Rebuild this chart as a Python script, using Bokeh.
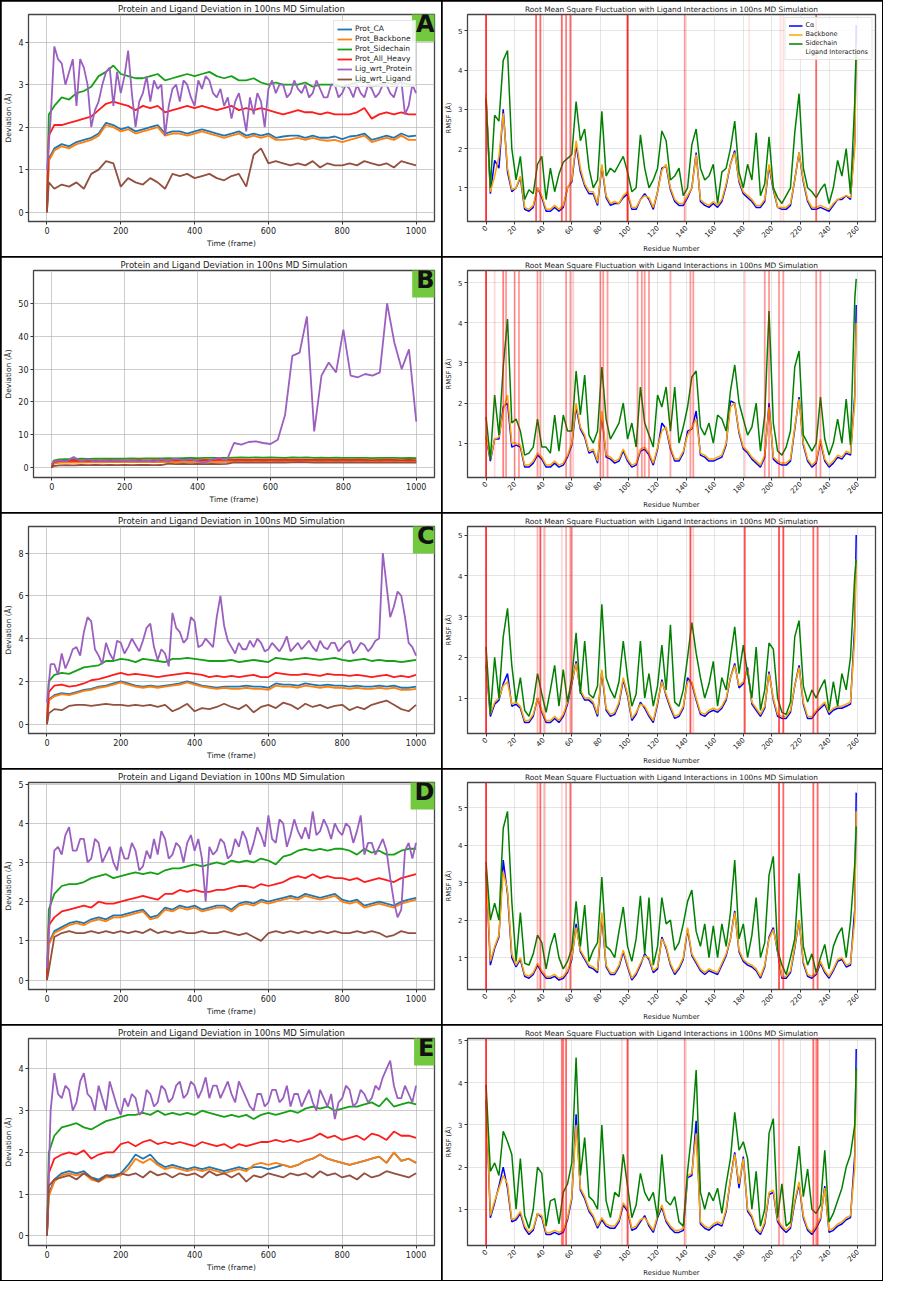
import math
from bokeh.plotting import figure
from bokeh.models import Range1d, Label, Span
from bokeh.layouts import row, column
from bokeh.embed import file_html
from bokeh.resources import INLINE

FONT = "DejaVu Sans"

# ---------------- data ----------------
FRAMES = [0, 5] + list(range(20, 1001, 20))
FRAMES_10 = list(range(0, 1001, 10))
RESIDUES = list(range(0, 259, 3)) + [259]

RMSD_TITLE = "Protein and Ligand Deviation in 100ns MD Simulation"
RMSF_TITLE = "Root Mean Square Fluctuation with Ligand Interactions in 100ns MD Simulation"
RMSD_LABELS = ["Prot_CA", "Prot_Backbone", "Prot_Sidechain", "Prot_All_Heavy", "Lig_wrt_Protein", "Lig_wrt_Ligand"]
RMSD_COLORS = ["#1f77b4", "#ff7f0e", "#16a016", "#ff1c1c", "#9b5fc0", "#93503f"]
RMSF_LABELS = ["C\u03b1", "Backbone", "Sidechain"]
RMSF_COLORS = ["#0000ff", "#ffa500", "#008000"]
LETTERS = ["A", "B", "C", "D", "E"]

# ---- panel A : RMSD ----
A_CA = [0, 1.25,
        1.5, 1.6, 1.55, 1.65, 1.7, 1.75, 1.85, 2.1, 2.05, 1.95,
        2.0, 1.9, 1.95, 2.0, 2.05, 1.85, 1.9, 1.9, 1.85, 1.9,
        1.95, 1.9, 1.85, 1.8, 1.85, 1.9, 1.8, 1.85, 1.8, 1.85,
        1.75, 1.78, 1.8, 1.8, 1.75, 1.8, 1.75, 1.75, 1.78, 1.72,
        1.78, 1.8, 1.85, 1.7, 1.75, 1.8, 1.75, 1.85, 1.78, 1.8]
A_BB = [0, 1.2,
        1.45, 1.55, 1.5, 1.6, 1.65, 1.7, 1.8, 2.05, 2.0, 1.9,
        1.95, 1.85, 1.9, 1.95, 2.0, 1.8, 1.85, 1.85, 1.8, 1.85,
        1.9, 1.85, 1.8, 1.75, 1.8, 1.85, 1.75, 1.8, 1.75, 1.8,
        1.7, 1.7, 1.72, 1.75, 1.7, 1.75, 1.7, 1.68, 1.7, 1.65,
        1.7, 1.75, 1.8, 1.65, 1.7, 1.75, 1.7, 1.8, 1.7, 1.7]
A_SC = [0, 2.3,
        2.5, 2.7, 2.65, 2.8, 2.85, 2.95, 3.2, 3.3, 3.45, 3.25,
        3.2, 3.15, 3.15, 3.2, 3.25, 3.1, 3.15, 3.2, 3.25, 3.2,
        3.25, 3.3, 3.2, 3.15, 3.2, 3.1, 3.1, 3.15, 3.05, 3.0,
        3.05, 3.0, 3.0, 3.0, 3.05, 2.95, 3.0, 3.0, 3.0, 2.95,
        3.0, 3.05, 3.1, 2.95, 3.0, 3.05, 3.0, 3.05, 3.0, 3.0]
A_HV = [0, 1.8,
        2.05, 2.05, 2.1, 2.15, 2.2, 2.25, 2.4, 2.55, 2.6, 2.55,
        2.5, 2.4, 2.5, 2.45, 2.5, 2.35, 2.4, 2.45, 2.5, 2.45,
        2.5, 2.45, 2.4, 2.45, 2.5, 2.4, 2.45, 2.4, 2.45, 2.4,
        2.35, 2.3, 2.35, 2.4, 2.35, 2.35, 2.3, 2.35, 2.3, 2.3,
        2.3, 2.35, 2.45, 2.2, 2.3, 2.35, 2.3, 2.35, 2.3, 2.3]
# Lig_wrt_Protein, every 10 frames
A_LP = [1.0, 2.2, 3.9, 3.6, 3.5, 3.0, 3.3, 3.6, 2.5, 3.6,
        3.4, 3.0, 2.0, 2.4, 2.6, 3.0, 3.3, 3.4, 2.5, 3.3,
        2.8, 3.2, 3.8, 2.8, 2.0, 2.6, 2.8, 3.2, 2.6, 3.1,
        2.9, 3.0, 1.8, 2.5, 2.9, 3.0, 2.6, 3.1, 3.0, 2.7,
        2.5, 3.1, 2.9, 3.2, 3.1, 2.8, 2.7, 2.9, 2.5, 2.7,
        2.2, 2.6, 2.8, 2.4, 1.9, 2.7, 2.3, 2.8, 2.6, 2.0,
        2.9, 3.1, 2.8, 3.0, 3.0, 2.7, 2.8, 3.1, 2.9, 2.8,
        3.0, 2.7, 2.8, 3.1, 2.9, 2.7, 2.7, 3.0, 3.0, 2.7,
        2.8, 3.0, 2.9, 2.7, 3.0, 2.8, 2.7, 3.0, 2.9, 2.7,
        2.8, 3.0, 3.0, 2.8, 2.7, 3.0, 3.1, 2.3, 2.5, 3.0,
        2.8]
A_LL = [0, 0.7,
        0.55, 0.65, 0.6, 0.7, 0.55, 0.9, 1.0, 1.2, 1.15, 0.6,
        0.8, 0.7, 0.65, 0.8, 0.7, 0.55, 0.9, 0.85, 0.9, 0.8,
        0.85, 0.9, 0.8, 0.75, 0.85, 0.9, 0.6, 1.35, 1.5, 1.15,
        1.2, 1.15, 1.1, 1.15, 1.1, 1.2, 1.05, 1.15, 1.1, 1.1,
        1.15, 1.1, 1.2, 1.15, 1.1, 1.15, 1.05, 1.2, 1.15, 1.1]

# ---- panel B : RMSD ----
B_CA = [0, 1.3,
        1.6, 1.65, 1.7, 1.65, 1.7, 1.75, 1.7, 1.75, 1.8, 1.75,
        1.8, 1.75, 1.8, 1.85, 1.8, 1.85, 1.8, 1.85, 1.9, 1.85,
        1.9, 1.85, 1.9, 1.9, 2.0, 1.95, 2.0, 2.0, 1.95, 2.0,
        1.95, 2.0, 2.05, 2.0, 2.0, 1.95, 2.0, 2.0, 1.95, 2.0,
        1.95, 2.0, 1.95, 1.9, 1.95, 2.0, 1.95, 1.9, 1.95, 1.9]
B_BB = [0, 1.2,
        1.5, 1.55, 1.6, 1.55, 1.6, 1.65, 1.6, 1.65, 1.7, 1.65,
        1.7, 1.65, 1.7, 1.75, 1.7, 1.75, 1.7, 1.75, 1.8, 1.75,
        1.8, 1.75, 1.8, 1.8, 1.9, 1.85, 1.9, 1.9, 1.85, 1.9,
        1.85, 1.9, 1.95, 1.9, 1.9, 1.85, 1.9, 1.9, 1.85, 1.9,
        1.85, 1.9, 1.85, 1.8, 1.85, 1.9, 1.85, 1.8, 1.85, 1.8]
B_SC = [0, 2.1,
        2.5, 2.6, 2.6, 2.7, 2.65, 2.7, 2.7, 2.75, 2.7, 2.75,
        2.8, 2.75, 2.8, 2.8, 2.85, 2.9, 2.85, 2.9, 2.95, 2.9,
        3.0, 2.95, 3.0, 3.0, 3.05, 3.1, 3.05, 3.1, 3.05, 3.1,
        3.05, 3.0, 3.1, 3.05, 3.1, 3.0, 3.05, 3.0, 3.05, 3.0,
        2.95, 3.0, 2.95, 2.9, 2.95, 3.0, 2.95, 2.9, 2.95, 2.9]
B_HV = [0, 1.7,
        2.0, 2.05, 2.1, 2.1, 2.15, 2.1, 2.15, 2.2, 2.15, 2.2,
        2.2, 2.25, 2.2, 2.25, 2.3, 2.25, 2.3, 2.3, 2.35, 2.3,
        2.35, 2.3, 2.35, 2.4, 2.45, 2.4, 2.45, 2.4, 2.45, 2.4,
        2.4, 2.45, 2.4, 2.45, 2.4, 2.35, 2.4, 2.4, 2.35, 2.4,
        2.35, 2.4, 2.35, 2.3, 2.35, 2.4, 2.35, 2.3, 2.35, 2.3]
B_LP = [1.0, 1.8,
        2.2, 2.0, 3.2, 2.0, 2.5, 1.8, 2.2, 1.9, 2.4, 2.0,
        2.3, 1.9, 2.2, 1.8, 2.5, 2.0, 2.8, 2.2, 2.6, 2.0,
        1.5, 2.5, 3.0, 2.2, 7.5, 7.0, 7.8, 8.0, 7.5, 7.2,
        8.5, 16.0, 34.0, 35.0, 46.0, 11.0, 28.0, 32.0, 29.0, 42.0,
        28.0, 27.5, 28.5, 28.0, 29.0, 50.0, 38.0, 30.0, 36.0, 14.0]
B_LL = [0, 0.5,
        0.7, 0.75, 0.7, 0.8, 0.75, 0.8, 0.75, 0.8, 0.75, 0.8,
        0.75, 0.8, 0.8, 0.75, 0.8, 1.2, 1.1, 1.15, 1.1, 1.15,
        1.1, 1.15, 1.1, 1.15, 1.6, 1.55, 1.6, 1.55, 1.6, 1.55,
        1.6, 1.55, 1.6, 1.65, 1.6, 1.55, 1.6, 1.55, 1.6, 1.55,
        1.6, 1.55, 1.6, 1.55, 1.6, 1.55, 1.6, 1.55, 1.6, 1.55]

# ---- panel C : RMSD ----
C_CA = [0, 1.15,
        1.35, 1.45, 1.4, 1.5, 1.6, 1.65, 1.75, 1.8, 1.9, 2.0,
        1.9, 1.8, 1.75, 1.8, 1.75, 1.8, 1.85, 1.9, 2.0, 1.9,
        1.8, 1.75, 1.7, 1.75, 1.75, 1.75, 1.8, 1.75, 1.75, 1.7,
        1.9, 1.85, 1.85, 1.8, 1.9, 1.85, 1.8, 1.85, 1.8, 1.8,
        1.75, 1.8, 1.75, 1.75, 1.8, 1.75, 1.8, 1.7, 1.7, 1.75]
C_BB = [0, 1.1,
        1.3, 1.4, 1.35, 1.45, 1.55, 1.6, 1.7, 1.75, 1.85, 1.95,
        1.85, 1.75, 1.7, 1.75, 1.7, 1.75, 1.8, 1.85, 1.95, 1.85,
        1.75, 1.7, 1.65, 1.7, 1.65, 1.65, 1.7, 1.65, 1.65, 1.6,
        1.8, 1.75, 1.75, 1.7, 1.8, 1.75, 1.7, 1.75, 1.7, 1.7,
        1.65, 1.7, 1.65, 1.65, 1.7, 1.65, 1.7, 1.6, 1.6, 1.65]
C_SC = [0, 2.0,
        2.3, 2.4, 2.35, 2.5, 2.65, 2.7, 2.75, 2.95, 2.95, 3.05,
        3.0, 2.9, 3.05, 3.0, 2.95, 2.9, 3.05, 3.05, 3.1, 3.05,
        3.0, 2.95, 2.95, 2.95, 3.0, 2.9, 2.95, 3.0, 2.95, 2.9,
        3.1, 3.05, 3.0, 3.05, 3.1, 3.05, 3.0, 3.05, 3.1, 3.0,
        2.95, 3.0, 3.05, 2.95, 3.0, 2.95, 2.95, 2.9, 2.95, 3.0]
C_HV = [0, 1.5,
        1.8, 1.85, 1.75, 1.8, 1.9, 2.05, 2.1, 2.2, 2.3, 2.4,
        2.3, 2.35, 2.3, 2.25, 2.2, 2.25, 2.3, 2.35, 2.4, 2.35,
        2.3, 2.2, 2.25, 2.2, 2.25, 2.2, 2.25, 2.3, 2.2, 2.2,
        2.4, 2.35, 2.3, 2.3, 2.35, 2.3, 2.25, 2.35, 2.3, 2.3,
        2.25, 2.3, 2.25, 2.2, 2.25, 2.3, 2.2, 2.25, 2.2, 2.3]
C_LP = [1.0, 2.8, 2.8, 2.3, 3.3, 2.6, 3.0, 3.5, 3.6, 3.2,
        4.3, 5.0, 4.8, 3.5, 3.2, 2.8, 3.8, 3.3, 3.0, 3.9,
        3.8, 3.3, 3.6, 4.0, 3.7, 3.4, 3.9, 4.5, 4.7, 3.6,
        3.0, 3.5, 3.3, 2.7, 5.2, 4.5, 4.3, 3.8, 4.0, 5.0,
        4.8, 3.6, 3.7, 4.0, 3.8, 3.6, 5.0, 6.0, 4.6, 3.9,
        3.6, 3.3, 3.8, 3.5, 3.5, 3.9, 3.6, 4.0, 3.8, 3.4,
        3.5, 3.8, 3.6, 3.4, 3.7, 4.1, 3.4, 3.6, 3.8, 3.5,
        3.7, 3.9, 3.6, 3.4, 3.9, 3.6, 3.5, 3.8, 3.8, 3.4,
        3.6, 3.8, 3.9, 3.3, 3.5, 3.8, 3.7, 3.4, 3.6, 3.9,
        4.0, 8.0, 6.5, 5.0, 5.5, 6.2, 6.0, 5.0, 3.8, 3.6,
        3.2]
C_LL = [0, 0.5,
        0.7, 0.65, 0.85, 0.9, 0.9, 0.85, 0.9, 0.95, 0.9, 0.9,
        0.85, 0.9, 0.85, 0.9, 0.8, 0.9, 0.6, 0.75, 0.95, 0.6,
        0.75, 0.7, 0.8, 0.95, 0.8, 0.7, 0.9, 0.55, 0.8, 0.9,
        0.75, 1.0, 0.9, 0.7, 0.95, 0.8, 0.9, 0.75, 0.85, 0.9,
        0.65, 0.8, 0.7, 0.9, 1.0, 1.1, 0.9, 0.7, 0.6, 0.9]

# ---- panel D : RMSD ----
D_CA = [0, 0.95,
        1.25, 1.35, 1.45, 1.5, 1.45, 1.55, 1.6, 1.55, 1.65, 1.65,
        1.7, 1.75, 1.8, 1.6, 1.65, 1.85, 1.8, 1.9, 1.85, 1.9,
        1.8, 1.85, 1.9, 1.9, 1.8, 1.95, 2.0, 1.95, 2.05, 2.0,
        2.05, 2.1, 2.15, 2.1, 2.2, 2.15, 2.1, 2.15, 2.2, 2.05,
        2.0, 2.05, 1.9, 1.95, 2.0, 1.95, 1.9, 2.0, 2.05, 2.1]
D_BB = [0, 0.9,
        1.2, 1.3, 1.4, 1.45, 1.4, 1.5, 1.55, 1.5, 1.6, 1.6,
        1.65, 1.7, 1.75, 1.55, 1.6, 1.8, 1.75, 1.85, 1.8, 1.85,
        1.75, 1.8, 1.85, 1.85, 1.75, 1.9, 1.95, 1.9, 2.0, 1.95,
        2.0, 2.05, 2.1, 2.05, 2.15, 2.1, 2.05, 2.1, 2.15, 2.0,
        1.95, 2.0, 1.85, 1.9, 1.95, 1.9, 1.85, 1.95, 2.0, 2.05]
D_SC = [0, 1.8,
        2.2, 2.4, 2.45, 2.45, 2.5, 2.6, 2.65, 2.7, 2.6, 2.65,
        2.7, 2.75, 2.7, 2.75, 2.7, 2.8, 2.85, 2.85, 2.9, 2.95,
        2.9, 2.95, 3.0, 2.95, 3.05, 3.0, 3.05, 3.0, 3.1, 3.05,
        2.95, 3.15, 3.2, 3.3, 3.35, 3.3, 3.35, 3.3, 3.35, 3.35,
        3.3, 3.2, 3.35, 3.25, 3.3, 3.2, 3.2, 3.3, 3.35, 3.35]
D_HV = [0, 1.4,
        1.6, 1.75, 1.8, 1.85, 1.9, 1.85, 2.0, 1.95, 1.95, 2.0,
        2.05, 2.1, 2.15, 2.1, 2.05, 2.2, 2.2, 2.3, 2.25, 2.3,
        2.25, 2.25, 2.3, 2.3, 2.35, 2.4, 2.4, 2.35, 2.45, 2.4,
        2.45, 2.5, 2.6, 2.65, 2.6, 2.7, 2.6, 2.65, 2.6, 2.6,
        2.55, 2.6, 2.5, 2.55, 2.6, 2.55, 2.5, 2.6, 2.65, 2.7]
D_LP = [0.3, 2.0, 3.3, 3.4, 3.2, 3.7, 3.9, 3.3, 3.3, 3.6,
        3.6, 3.0, 3.1, 3.6, 3.5, 3.0, 3.2, 3.4, 3.0, 2.8,
        3.4, 3.1, 3.1, 3.5, 3.3, 2.8, 2.9, 3.3, 3.1, 3.6,
        3.2, 3.8, 3.6, 3.1, 3.2, 3.5, 3.4, 3.0, 3.5, 3.7,
        3.3, 3.6, 3.1, 2.0, 3.4, 3.2, 3.3, 3.6, 3.5, 3.1,
        3.2, 3.6, 3.4, 3.8, 3.6, 3.2, 3.5, 3.9, 3.7, 3.4,
        4.2, 3.6, 3.5, 4.1, 4.0, 3.4, 3.7, 4.1, 3.8, 3.6,
        3.9, 3.6, 4.3, 3.7, 3.8, 4.1, 3.9, 3.6, 4.0, 3.8,
        3.7, 4.0, 3.9, 3.5, 3.8, 4.2, 3.2, 3.5, 3.5, 3.2,
        3.4, 3.6, 3.3, 2.6, 2.0, 1.6, 1.8, 3.3, 3.5, 3.1,
        3.5]
D_LL = [0, 0.25,
        1.1, 1.2, 1.25, 1.2, 1.2, 1.25, 1.2, 1.25, 1.2, 1.25,
        1.2, 1.25, 1.2, 1.3, 1.2, 1.25, 1.2, 1.25, 1.2, 1.2,
        1.25, 1.2, 1.2, 1.25, 1.2, 1.15, 1.2, 1.1, 1.0, 1.2,
        1.25, 1.2, 1.25, 1.2, 1.25, 1.2, 1.25, 1.2, 1.25, 1.2,
        1.2, 1.25, 1.2, 1.25, 1.2, 1.1, 1.15, 1.25, 1.2, 1.2]

# ---- panel E : RMSD ----
E_CA = [0, 1.0,
        1.35, 1.5, 1.55, 1.5, 1.55, 1.4, 1.35, 1.45, 1.45, 1.5,
        1.7, 1.95, 1.85, 1.95, 1.75, 1.65, 1.7, 1.65, 1.6, 1.65,
        1.6, 1.65, 1.6, 1.55, 1.6, 1.65, 1.6, 1.65, 1.65, 1.6,
        1.65, 1.7, 1.65, 1.7, 1.8, 1.85, 1.95, 1.85, 1.8, 1.75,
        1.7, 1.75, 1.8, 1.85, 1.9, 1.75, 2.0, 1.8, 1.85, 1.75]
E_BB = [0, 0.95,
        1.3, 1.45, 1.5, 1.45, 1.5, 1.35, 1.3, 1.4, 1.4, 1.45,
        1.6, 1.85, 1.75, 1.85, 1.7, 1.6, 1.65, 1.6, 1.55, 1.6,
        1.55, 1.6, 1.55, 1.5, 1.55, 1.6, 1.55, 1.7, 1.75, 1.7,
        1.75, 1.7, 1.65, 1.7, 1.8, 1.85, 1.95, 1.85, 1.8, 1.75,
        1.7, 1.75, 1.8, 1.85, 1.9, 1.75, 2.0, 1.8, 1.85, 1.75]
E_SC = [0, 2.0,
        2.4, 2.6, 2.65, 2.7, 2.6, 2.55, 2.65, 2.75, 2.8, 2.85,
        2.9, 2.9, 2.95, 2.9, 3.0, 2.9, 2.95, 2.9, 2.95, 2.9,
        3.0, 2.95, 2.9, 2.85, 2.9, 2.85, 2.9, 2.8, 2.9, 2.95,
        2.9, 2.95, 3.0, 2.95, 3.05, 3.1, 3.05, 3.1, 3.0, 3.05,
        3.1, 3.1, 3.15, 3.2, 3.1, 3.3, 3.1, 3.15, 3.2, 3.15]
E_HV = [0, 1.5,
        1.85, 1.95, 2.0, 1.95, 2.05, 1.85, 1.95, 2.0, 2.0, 2.2,
        2.25, 2.15, 2.25, 2.3, 2.2, 2.25, 2.2, 2.25, 2.2, 2.15,
        2.25, 2.2, 2.15, 2.2, 2.1, 2.2, 2.15, 2.2, 2.25, 2.25,
        2.3, 2.25, 2.3, 2.25, 2.3, 2.35, 2.45, 2.35, 2.4, 2.3,
        2.35, 2.4, 2.3, 2.45, 2.4, 2.3, 2.5, 2.4, 2.4, 2.35]
E_LP = [0, 3.0, 3.9, 3.4, 3.3, 3.6, 3.5, 3.0, 3.2, 3.7,
        3.9, 3.4, 3.3, 3.0, 3.6, 3.3, 3.0, 3.7, 3.4, 3.1,
        2.9, 3.3, 3.1, 3.4, 3.3, 2.9, 3.0, 3.5, 3.4, 3.1,
        3.2, 3.6, 3.5, 3.2, 3.3, 3.6, 3.7, 3.3, 3.4, 3.7,
        3.6, 3.3, 3.5, 3.8, 3.3, 3.6, 3.6, 3.3, 3.5, 3.7,
        3.4, 3.2, 3.7, 3.5, 3.3, 3.1, 3.0, 3.4, 3.4, 3.1,
        3.2, 3.5, 3.5, 3.2, 3.3, 3.6, 3.1, 3.4, 3.4, 3.1,
        3.3, 3.5, 3.2, 3.0, 3.5, 3.3, 3.1, 3.4, 2.8, 3.2,
        3.3, 3.6, 3.5, 3.1, 3.2, 3.5, 3.4, 3.2, 3.3, 3.6,
        3.5, 3.8, 4.0, 4.2, 3.6, 3.3, 3.3, 3.6, 3.4, 3.2,
        3.6]
E_LL = [0, 1.2,
        1.35, 1.4, 1.45, 1.35, 1.5, 1.4, 1.3, 1.45, 1.4, 1.5,
        1.45, 1.5, 1.4, 1.55, 1.45, 1.5, 1.4, 1.5, 1.45, 1.5,
        1.4, 1.55, 1.45, 1.5, 1.4, 1.5, 1.3, 1.45, 1.4, 1.5,
        1.45, 1.4, 1.5, 1.45, 1.5, 1.4, 1.55, 1.45, 1.5, 1.4,
        1.45, 1.35, 1.5, 1.4, 1.45, 1.55, 1.5, 1.45, 1.4, 1.5]

# ---------------- RMSF (residues 0,3,...,258,259) ----------------
A_RMSF_CA = [3.3, 0.85, 1.7, 1.5, 3.0, 1.4, 0.9, 1.0, 1.25, 0.45,
             0.4, 0.5, 1.0, 0.75, 0.4, 0.4, 0.5, 0.4, 0.5, 1.0,
             1.15, 2.1, 1.4, 1.05, 0.85, 0.85, 0.55, 1.55, 0.75, 0.55,
             0.6, 0.6, 0.75, 0.85, 0.45, 0.45, 0.7, 0.85, 0.7, 0.45,
             0.9, 1.5, 1.55, 0.95, 0.65, 0.55, 0.55, 0.75, 1.0, 1.9,
             0.65, 0.55, 0.5, 0.6, 0.5, 0.65, 1.05, 1.6, 1.95, 1.15,
             0.85, 0.75, 0.65, 0.5, 0.5, 0.65, 1.55, 0.95, 0.5, 0.45,
             0.45, 0.55, 1.2, 1.9, 1.15, 0.65, 0.45, 0.45, 0.5, 0.45,
             0.4, 0.55, 0.7, 0.7, 0.8, 0.7, 2.2,
             5.15]
A_RMSF_BB = [3.4, 0.9, 1.3, 1.8, 2.9, 1.5, 0.95, 1.0, 1.3, 0.5,
             0.45, 0.55, 1.0, 0.8, 0.45, 0.45, 0.55, 0.45, 0.55, 1.0,
             1.2, 2.2, 1.5, 1.1, 0.9, 0.9, 0.6, 1.6, 0.8, 0.6,
             0.65, 0.6, 0.8, 0.9, 0.5, 0.5, 0.7, 0.8, 0.75, 0.5,
             0.9, 1.45, 1.6, 1.0, 0.7, 0.6, 0.6, 0.8, 1.0, 1.85,
             0.7, 0.6, 0.55, 0.65, 0.55, 0.7, 1.1, 1.6, 1.9, 1.2,
             0.9, 0.8, 0.7, 0.55, 0.55, 0.7, 1.6, 1.0, 0.5, 0.5,
             0.5, 0.6, 1.2, 1.9, 1.2, 0.7, 0.5, 0.5, 0.55, 0.5,
             0.45, 0.6, 0.7, 0.75, 0.8, 0.75, 2.0,
             4.6]
A_RMSF_SC = [3.25, 1.0, 2.85, 2.7, 4.25, 4.5, 2.0, 1.2, 1.8, 0.7,
             0.95, 0.85, 1.6, 1.8, 0.7, 1.5, 0.9, 1.35, 1.65, 1.75,
             1.85, 3.2, 2.2, 2.5, 1.5, 1.0, 1.2, 2.95, 1.3, 1.5,
             1.4, 1.6, 1.8, 1.4, 0.9, 1.0, 2.35, 1.5, 1.0, 1.2,
             1.5, 2.45, 2.2, 1.2, 1.3, 1.5, 0.8, 1.0, 2.1, 2.5,
             1.5, 1.2, 1.3, 1.6, 0.6, 1.4, 1.5, 2.0, 2.7, 1.4,
             1.0, 1.6, 1.2, 2.4, 0.8, 1.1, 2.3, 1.0, 0.75, 0.6,
             0.8, 1.0, 2.4, 3.4, 1.5, 1.0, 0.9, 0.75, 0.95, 1.1,
             0.6, 1.0, 1.7, 1.3, 2.0, 0.85, 3.2,
             4.5]

B_RMSF_CA = [1.15, 0.55, 1.1, 1.1, 1.9, 2.0, 0.9, 0.95, 0.9, 0.4,
             0.4, 0.5, 0.7, 0.6, 0.4, 0.4, 0.5, 0.4, 0.45, 0.65,
             0.95, 1.9, 1.35, 1.15, 0.75, 0.8, 0.5, 1.7, 0.65, 0.6,
             0.5, 0.55, 0.8, 0.55, 0.4, 0.45, 0.8, 0.85, 0.7, 0.45,
             0.85, 1.5, 1.35, 0.85, 0.55, 0.55, 0.75, 1.3, 1.35, 1.8,
             0.7, 0.65, 0.55, 0.55, 0.6, 0.65, 0.95, 2.05, 2.0, 1.25,
             0.85, 0.75, 0.6, 0.5, 0.4, 0.65, 2.0, 0.6, 0.5, 0.45,
             0.45, 0.55, 1.35, 2.15, 0.95, 0.55, 0.4, 0.5, 1.05, 0.55,
             0.4, 0.5, 0.65, 0.6, 0.75, 0.7, 2.2,
             4.45]
B_RMSF_BB = [1.2, 0.6, 1.1, 1.15, 1.8, 2.2, 1.0, 1.0, 0.95, 0.45,
             0.45, 0.55, 0.75, 0.65, 0.45, 0.45, 0.55, 0.45, 0.5, 0.7,
             1.0, 2.0, 1.4, 1.2, 0.8, 0.85, 0.55, 1.8, 0.7, 0.65,
             0.55, 0.6, 0.85, 0.6, 0.45, 0.5, 0.85, 0.9, 0.75, 0.5,
             0.9, 1.3, 1.4, 0.9, 0.6, 0.6, 0.8, 1.2, 1.4, 1.6,
             0.75, 0.7, 0.6, 0.6, 0.65, 0.7, 1.0, 1.9, 2.0, 1.3,
             0.9, 0.8, 0.65, 0.55, 0.45, 0.7, 1.9, 0.65, 0.55, 0.5,
             0.5, 0.6, 1.4, 2.1, 1.0, 0.6, 0.45, 0.55, 1.1, 0.6,
             0.45, 0.55, 0.7, 0.65, 0.8, 0.75, 2.0,
             4.0]
B_RMSF_SC = [1.65, 0.6, 2.2, 1.2, 2.9, 4.1, 1.5, 1.6, 1.3, 0.7,
             0.75, 0.9, 1.6, 0.9, 0.9, 0.75, 1.7, 0.8, 1.7, 1.3,
             1.3, 2.8, 1.7, 2.7, 1.2, 1.0, 1.3, 2.9, 1.6, 1.1,
             1.3, 1.5, 2.0, 1.1, 1.5, 0.9, 2.4, 1.5, 1.2, 0.9,
             2.2, 1.9, 2.4, 1.3, 2.4, 1.0, 1.4, 1.9, 2.65, 2.8,
             1.4, 1.2, 1.5, 1.0, 1.7, 1.6, 1.3, 2.3, 2.95, 2.0,
             1.6, 1.2, 1.4, 2.0, 0.8, 1.7, 4.3, 1.5, 0.8, 0.7,
             0.9, 1.3, 2.9, 3.3, 1.2, 1.0, 0.8, 1.0, 2.15, 1.1,
             0.7, 1.0, 1.6, 1.0, 2.1, 0.95, 4.6,
             5.1]

C_RMSF_CA = [1.8, 0.55, 0.85, 0.95, 1.35, 1.6, 0.8, 0.85, 0.75, 0.4,
             0.4, 0.55, 1.0, 0.65, 0.4, 0.4, 0.5, 0.4, 0.55, 0.85,
             1.35, 1.9, 1.15, 0.95, 0.95, 0.85, 0.55, 1.65, 0.7, 0.55,
             0.6, 0.85, 1.45, 1.05, 0.45, 0.6, 0.9, 0.75, 0.55, 0.4,
             0.85, 1.45, 1.05, 0.75, 0.5, 0.55, 0.75, 1.5, 1.35, 0.95,
             0.6, 0.55, 0.65, 0.7, 0.65, 0.75, 0.95, 1.5, 1.85, 1.25,
             1.35, 1.75, 0.85, 0.7, 0.55, 0.75, 1.65, 0.95, 0.55, 0.5,
             0.5, 0.65, 1.3, 1.8, 0.85, 0.5, 0.5, 0.65, 0.75, 0.85,
             0.6, 0.7, 0.75, 0.75, 0.8, 0.85, 2.8,
             5.0]
C_RMSF_BB = [1.9, 0.6, 0.9, 1.0, 1.3, 1.4, 0.85, 0.9, 0.8, 0.45,
             0.45, 0.6, 1.0, 0.7, 0.45, 0.45, 0.55, 0.45, 0.6, 0.9,
             1.4, 1.85, 1.2, 1.0, 1.0, 0.9, 0.6, 1.7, 0.75, 0.6,
             0.65, 0.9, 1.5, 1.1, 0.5, 0.65, 0.85, 0.8, 0.6, 0.45,
             0.9, 1.4, 1.1, 0.8, 0.55, 0.6, 0.8, 1.4, 1.4, 1.0,
             0.65, 0.6, 0.7, 0.75, 0.7, 0.8, 1.0, 1.5, 1.8, 1.3,
             1.4, 1.7, 0.9, 0.75, 0.6, 0.8, 1.6, 1.0, 0.6, 0.55,
             0.55, 0.7, 1.3, 1.75, 0.9, 0.55, 0.55, 0.7, 0.8, 0.9,
             0.65, 0.75, 0.8, 0.8, 0.85, 0.9, 2.5,
             4.4]
C_RMSF_SC = [2.25, 0.6, 2.0, 1.0, 2.5, 3.2, 1.8, 0.9, 1.5, 0.7,
             0.55, 0.9, 1.6, 1.1, 0.65, 1.2, 1.8, 0.8, 1.7, 0.9,
             1.5, 2.6, 1.1, 2.4, 1.1, 1.0, 1.3, 3.3, 1.5, 1.2,
             1.0, 1.4, 2.4, 1.5, 0.8, 1.1, 2.4, 1.0, 1.6, 0.8,
             1.3, 2.3, 1.2, 2.8, 0.9, 0.8, 1.2, 2.0, 2.85, 2.1,
             1.5, 1.0, 1.35, 1.9, 0.8, 1.5, 1.2, 2.0, 2.75, 1.6,
             2.3, 1.6, 1.0, 2.25, 0.7, 1.2, 2.35, 2.2, 1.0, 0.65,
             0.6, 0.9, 2.5, 2.9, 1.3, 0.9, 1.2, 1.0, 1.25, 1.45,
             0.7, 1.4, 0.8, 1.6, 1.2, 2.0, 4.0,
             4.4]

D_RMSF_CA = [3.3, 0.8, 1.25, 1.55, 3.6, 2.7, 1.0, 0.75, 0.95, 0.5,
             0.45, 0.55, 0.8, 0.6, 0.45, 0.45, 0.5, 0.4, 0.45, 0.6,
             0.95, 1.9, 1.15, 0.95, 0.75, 0.7, 0.6, 2.1, 0.75, 0.55,
             0.55, 0.75, 1.15, 0.75, 0.4, 0.55, 0.8, 1.1, 0.95, 0.6,
             0.7, 1.55, 1.25, 0.8, 0.55, 0.7, 0.95, 1.75, 1.05, 0.85,
             0.65, 0.55, 0.65, 0.6, 0.55, 0.8, 1.05, 1.5, 2.25, 1.15,
             0.9, 0.8, 0.75, 0.65, 0.45, 0.75, 1.55, 1.8, 1.15, 0.45,
             0.45, 0.6, 1.25, 2.0, 0.85, 0.5, 0.45, 0.55, 0.85, 0.6,
             0.45, 0.65, 0.9, 0.95, 0.75, 0.8, 2.3,
             5.4]
D_RMSF_BB = [3.4, 0.9, 1.3, 1.6, 3.3, 2.8, 1.1, 0.8, 1.0, 0.55,
             0.5, 0.6, 0.85, 0.65, 0.5, 0.5, 0.55, 0.45, 0.5, 0.65,
             1.0, 1.8, 1.2, 1.0, 0.8, 0.75, 0.65, 2.2, 0.8, 0.6,
             0.6, 0.8, 1.2, 0.8, 0.45, 0.6, 0.85, 1.05, 1.0, 0.65,
             0.75, 1.5, 1.3, 0.85, 0.6, 0.75, 1.0, 1.8, 1.1, 0.9,
             0.7, 0.6, 0.7, 0.65, 0.6, 0.85, 1.1, 1.5, 2.2, 1.2,
             0.95, 0.85, 0.8, 0.7, 0.5, 0.8, 1.5, 1.75, 1.2, 0.5,
             0.5, 0.65, 1.3, 2.0, 0.9, 0.55, 0.5, 0.6, 0.9, 0.65,
             0.5, 0.7, 0.95, 1.0, 0.8, 0.85, 2.0,
             4.9]
D_RMSF_SC = [3.55, 2.0, 2.45, 2.0, 4.45, 4.9, 2.5, 0.9, 2.2, 0.85,
             0.8, 1.1, 1.6, 1.4, 0.7, 1.3, 1.65, 1.0, 0.7, 0.9,
             1.25, 2.5, 1.3, 2.4, 0.9, 1.2, 1.4, 3.15, 1.3, 1.2,
             1.0, 1.7, 2.35, 1.3, 0.9, 1.5, 2.65, 1.1, 2.6, 0.8,
             1.3, 2.6, 1.9, 2.0, 1.2, 1.4, 1.9, 2.5, 2.8, 1.7,
             1.3, 1.9, 1.0, 1.85, 1.0, 1.9, 1.3, 2.2, 3.6, 1.5,
             1.9, 1.0, 1.6, 2.6, 1.0, 1.4, 3.2, 3.7, 1.2, 0.8,
             0.55, 1.0, 1.5, 3.25, 1.3, 0.8, 1.1, 0.6, 1.0, 1.35,
             0.7, 1.3, 1.6, 1.8, 1.0, 1.95, 3.5,
             4.5]

E_RMSF_CA = [3.6, 0.8, 1.15, 1.55, 2.0, 1.5, 0.7, 0.75, 0.9, 0.55,
             0.4, 0.5, 0.9, 0.8, 0.4, 0.4, 0.45, 0.4, 0.45, 0.75,
             1.25, 3.25, 1.45, 1.25, 0.95, 0.8, 0.55, 0.75, 0.6, 0.55,
             0.55, 0.7, 1.1, 0.95, 0.5, 0.55, 0.7, 0.85, 0.6, 0.45,
             0.8, 1.05, 0.7, 0.55, 0.45, 0.45, 0.5, 1.75, 1.8, 3.1,
             0.65, 0.55, 0.5, 0.6, 0.65, 0.6, 0.95, 1.7, 2.35, 1.5,
             2.25, 0.95, 0.8, 0.5, 0.4, 0.65, 1.35, 1.4, 0.7, 0.55,
             0.45, 0.55, 1.15, 1.6, 0.8, 0.5, 0.4, 0.55, 0.75, 1.55,
             0.45, 0.5, 0.6, 0.65, 0.75, 0.8, 2.3,
             4.8]
E_RMSF_BB = [3.7, 0.85, 1.2, 1.5, 1.8, 1.6, 0.75, 0.8, 0.95, 0.6,
             0.45, 0.55, 0.9, 0.85, 0.45, 0.45, 0.5, 0.45, 0.5, 0.8,
             1.3, 3.0, 1.5, 1.3, 1.0, 0.85, 0.6, 0.8, 0.65, 0.6,
             0.6, 0.75, 1.15, 1.0, 0.55, 0.6, 0.75, 0.8, 0.65, 0.5,
             0.85, 1.1, 0.75, 0.6, 0.5, 0.5, 0.55, 1.8, 1.85, 2.8,
             0.7, 0.6, 0.55, 0.65, 0.7, 0.65, 1.0, 1.7, 2.3, 1.6,
             2.2, 1.0, 0.85, 0.55, 0.45, 0.7, 1.4, 1.45, 0.75, 0.6,
             0.5, 0.6, 1.2, 1.65, 0.85, 0.55, 0.45, 0.6, 0.8, 1.5,
             0.5, 0.55, 0.65, 0.7, 0.8, 0.85, 2.0,
             4.3]
E_RMSF_SC = [3.95, 1.9, 2.1, 1.8, 2.85, 2.6, 2.3, 1.0, 2.2, 0.85,
             0.55, 1.0, 2.0, 1.85, 0.6, 1.2, 1.25, 0.65, 1.4, 1.6,
             2.1, 4.6, 1.8, 2.7, 1.3, 1.2, 1.0, 3.0, 1.2, 0.8,
             1.4, 1.3, 2.3, 1.55, 0.8, 1.1, 1.85, 1.4, 1.2, 1.4,
             0.8, 2.3, 1.2, 1.1, 1.3, 0.7, 0.6, 1.9, 2.85, 4.3,
             1.4, 1.0, 1.4, 1.2, 1.5, 0.9, 1.6, 2.2, 3.3, 2.4,
             2.6, 2.2, 1.0, 1.9, 0.6, 1.0, 2.8, 3.15, 0.8, 1.6,
             0.6, 0.7, 1.6, 2.5, 1.3, 1.95, 1.0, 0.9, 1.1, 2.4,
             0.7, 0.9, 1.2, 1.5, 2.0, 2.3, 3.0,
             4.35]

# ligand-interaction residues and their line opacity
A_LIG_RES = [0, 35, 38, 53, 56, 59, 99, 139, 184, 206, 208, 231]
A_LIG_ALPHA = [0.8, 0.6, 0.6, 0.6, 0.5, 0.6, 0.85, 0.4, 0.1, 0.12, 0.12, 0.6]
B_LIG_RES = [0, 6, 12, 14, 20, 23, 36, 38, 56, 59, 61, 80, 82, 85, 106, 109, 111, 114,
             129, 143, 145, 181, 195, 198, 205, 208, 231, 234]
B_LIG_ALPHA = [0.8, 0.15, 0.5, 0.4, 0.4, 0.4, 0.4, 0.4, 0.4, 0.4, 0.2, 0.45, 0.4, 0.4,
               0.4, 0.4, 0.4, 0.4, 0.35, 0.4, 0.4, 0.2, 0.4, 0.4, 0.4, 0.4, 0.4, 0.4]
C_LIG_RES = [0, 36, 38, 41, 53, 56, 59, 60, 143, 145, 181, 205, 208, 229, 232]
C_LIG_ALPHA = [0.8, 0.3, 0.7, 0.3, 0.15, 0.3, 0.4, 0.4, 0.7, 0.2, 0.7, 0.7, 0.7, 0.6, 0.6]
D_LIG_RES = [0, 36, 38, 41, 53, 56, 59, 205, 208, 229, 232]
D_LIG_ALPHA = [0.8, 0.3, 0.6, 0.3, 0.15, 0.3, 0.6, 0.7, 0.6, 0.6, 0.6]
E_LIG_RES = [0, 53, 54, 56, 95, 99, 139, 205, 208, 229, 231, 232]
E_LIG_ALPHA = [0.8, 0.5, 0.5, 0.6, 0.15, 0.7, 0.4, 0.4, 0.2, 0.6, 0.4, 0.6]

RMSD_Y = [(-0.22, 4.65), (-3.0, 60.0), (-0.44, 9.24), (-0.24, 5.04), (-0.23, 4.73)]
RMSD_TICKS = [[0, 1, 2, 3, 4], [0, 10, 20, 30, 40, 50], [0, 2, 4, 6, 8], [0, 1, 2, 3, 4, 5], [0, 1, 2, 3, 4]]
RMSF_Y = [(0.14, 5.42), (0.14, 5.31), (0.13, 5.21), (0.15, 5.67), (0.14, 5.05)]
RMSF_TICKS = [1, 2, 3, 4, 5]
TIME_TICKS = [0, 200, 400, 600, 800, 1000]
RES_TICKS = list(range(0, 261, 20))

PANELS = [
    dict(rmsd=[A_CA, A_BB, A_SC, A_HV, A_LP, A_LL], lp_frames=FRAMES_10,
         rmsf=[A_RMSF_CA, A_RMSF_BB, A_RMSF_SC], lig=A_LIG_RES, lig_a=A_LIG_ALPHA),
    dict(rmsd=[B_CA, B_BB, B_SC, B_HV, B_LP, B_LL], lp_frames=FRAMES,
         rmsf=[B_RMSF_CA, B_RMSF_BB, B_RMSF_SC], lig=B_LIG_RES, lig_a=B_LIG_ALPHA),
    dict(rmsd=[C_CA, C_BB, C_SC, C_HV, C_LP, C_LL], lp_frames=FRAMES_10,
         rmsf=[C_RMSF_CA, C_RMSF_BB, C_RMSF_SC], lig=C_LIG_RES, lig_a=C_LIG_ALPHA),
    dict(rmsd=[D_CA, D_BB, D_SC, D_HV, D_LP, D_LL], lp_frames=FRAMES_10,
         rmsf=[D_RMSF_CA, D_RMSF_BB, D_RMSF_SC], lig=D_LIG_RES, lig_a=D_LIG_ALPHA),
    dict(rmsd=[E_CA, E_BB, E_SC, E_HV, E_LP, E_LL], lp_frames=FRAMES_10,
         rmsf=[E_RMSF_CA, E_RMSF_BB, E_RMSF_SC], lig=E_LIG_RES, lig_a=E_LIG_ALPHA),
]

# ---------------- layout constants ----------------
WL, WR, H = 440, 440, 255
GREEN = "#72c83e"


def style_axes(p, tick_size, label_size):
    for ax in p.axis:
        ax.axis_line_color = None
        ax.major_tick_out = 3
        ax.major_tick_in = 0
        ax.major_tick_line_color = "#333333"
        ax.minor_tick_line_color = None
        ax.major_label_text_font = FONT
        ax.major_label_text_font_size = tick_size
        ax.major_label_text_color = "#222222"
        ax.axis_label_text_font = FONT
        ax.axis_label_text_font_size = label_size
        ax.axis_label_text_font_style = "normal"
        ax.axis_label_text_color = "#222222"
        ax.major_label_standoff = 2
        ax.axis_label_standoff = 2


def style_title(p, size):
    p.title.text_font = FONT
    p.title.text_font_size = size
    p.title.text_font_style = "normal"
    p.title.text_color = "#222222"
    p.title.align = "center"
    p.title.standoff = 1
    p.title.offset = 0


def style_legend(p, size, row_h, glyph_w, location):
    lg = p.legend[0]
    lg.location = location
    lg.label_text_font = FONT
    lg.label_text_font_size = size
    lg.label_text_color = "#222222"
    lg.glyph_width = glyph_w
    lg.glyph_height = row_h
    lg.label_height = row_h
    lg.label_standoff = 3
    lg.spacing = 1
    lg.padding = 3
    lg.margin = 3
    lg.border_line_color = "#cccccc"
    lg.background_fill_alpha = 0.85


def rmsd_figure(i, panel):
    y0, y1 = RMSD_Y[i]
    p = figure(width=WL, height=H, x_range=Range1d(-50, 1050), y_range=Range1d(y0, y1),
               output_backend="svg", toolbar_location=None, title=RMSD_TITLE,
               min_border_left=18, min_border_right=7, min_border_top=0, min_border_bottom=0,
               x_axis_label="Time (frame)", y_axis_label="Deviation (\u00c5)")
    p.background_fill_color = "white"
    p.border_fill_color = "white"
    p.outline_line_color = "#444444"
    p.outline_line_width = 1.3
    style_title(p, "8.5px")
    style_axes(p, "8px", "7.5px")
    p.xaxis.ticker = TIME_TICKS
    p.yaxis.ticker = RMSD_TICKS[i]
    p.grid.grid_line_color = "#b8b8b8"
    p.grid.grid_line_alpha = 0.7
    p.grid.grid_line_width = 1
    for k, (vals, name, color) in enumerate(zip(panel["rmsd"], RMSD_LABELS, RMSD_COLORS)):
        xs = panel["lp_frames"] if k == 4 else FRAMES
        n = min(len(xs), len(vals))
        kw = dict(legend_label=name) if i == 0 else {}
        p.line(xs[:n], vals[:n], line_color=color, line_width=1.8, **kw)
    if i == 0:
        # legend kept just left of the green panel tag
        style_legend(p, "7.5px", 8, 15, (305, 134))
    tag = Label(x=1050, y=y1, x_offset=4, y_offset=9, text=LETTERS[i],
                text_align="right", text_baseline="top", text_font=FONT,
                text_font_size="24px", text_font_style="bold", text_color="#111111",
                background_fill_color=GREEN, padding=4)
    tag.level = "overlay"
    p.add_layout(tag)
    return p


def rmsf_figure(i, panel):
    y0, y1 = RMSF_Y[i]
    p = figure(width=WR, height=H, x_range=Range1d(-13, 272.5), y_range=Range1d(y0, y1),
               output_backend="svg", toolbar_location=None, title=RMSF_TITLE,
               min_border_left=24, min_border_right=7, min_border_top=0, min_border_bottom=0,
               x_axis_label="Residue Number", y_axis_label="RMSF (\u00c5)")
    p.background_fill_color = "white"
    p.border_fill_color = "white"
    p.outline_line_color = "#444444"
    p.outline_line_width = 1.3
    style_title(p, "7.4px")
    style_axes(p, "7px", "6.8px")
    p.xaxis.ticker = RES_TICKS
    p.xaxis.major_label_orientation = math.pi / 4
    p.yaxis.ticker = RMSF_TICKS
    p.grid.grid_line_color = "#cccccc"
    p.grid.grid_line_alpha = 0.5
    for vals, name, color in zip(panel["rmsf"], RMSF_LABELS, RMSF_COLORS):
        n = min(len(RESIDUES), len(vals))
        kw = dict(legend_label=name) if i == 0 else {}
        p.line(RESIDUES[:n], vals[:n], line_color=color, line_width=1.5, **kw)
    for r, a in zip(panel["lig"], panel["lig_a"]):
        p.add_layout(Span(location=r, dimension="height", line_color="red",
                          line_alpha=a, line_width=1.8))
    if i == 0:
        p.line([], [], line_color="red", line_alpha=0.6, line_width=1.5,
               legend_label="Ligand Interactions")
        style_legend(p, "6.5px", 7, 14, "top_right")
    return p


rows = []
for i, panel in enumerate(PANELS):
    rows.append(row(rmsd_figure(i, panel), rmsf_figure(i, panel), spacing=1,
                    styles={"background-color": "#000000"}))

layout = column(*rows, spacing=1, styles={"background-color": "#000000", "padding": "1px"})

open("out.html", "w").write(file_html(layout, INLINE))
